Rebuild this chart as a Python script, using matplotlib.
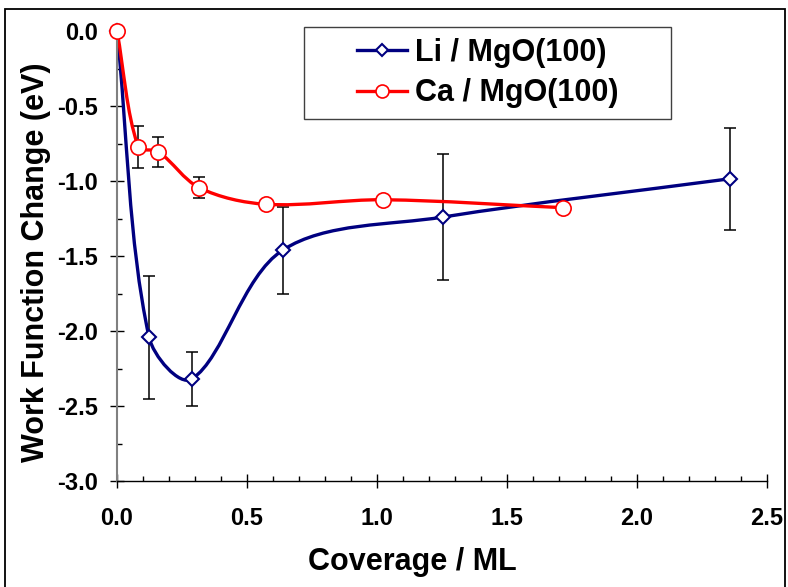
import numpy as np
import matplotlib
matplotlib.use("Agg")
import matplotlib.pyplot as plt
from matplotlib.path import Path
from matplotlib.patches import PathPatch, Rectangle
from matplotlib.lines import Line2D
from matplotlib.ticker import MultipleLocator, FormatStrFormatter

plt.rcParams['font.family'] = ['Liberation Sans', 'DejaVu Sans']
plt.rcParams['font.weight'] = 'bold'
plt.rcParams['axes.unicode_minus'] = False

# data
li_cov = [0.0, 0.123, 0.288, 0.638, 1.255, 2.358]
li_dwf = [0.0, -2.04, -2.32, -1.46, -1.24, -0.985]
li_err = [0.0, 0.41, 0.18, 0.29, 0.42, 0.34]

ca_cov = [0.0, 0.081, 0.159, 0.317, 0.572, 1.024, 1.717]
ca_dwf = [0.0, -0.77, -0.805, -1.045, -1.155, -1.125, -1.178]
ca_err = [0.0, 0.14, 0.10, 0.07, 0.0, 0.0, 0.0]

labels = ['Li / MgO(100)', 'Ca / MgO(100)']
W, H = 788, 587


def smooth_path(xs, ys, sx=260.0, sy=150.0):
    # excel style smoothed line, bezier segments with chord weighted tangents
    p = np.column_stack([np.asarray(xs) * sx, np.asarray(ys) * sy])
    n = len(p)
    verts = [p[0]]
    codes = [Path.MOVETO]
    for i in range(n - 1):
        p0 = p[max(i - 1, 0)]
        p1 = p[i]
        p2 = p[i + 1]
        p3 = p[min(i + 2, n - 1)]
        d01 = np.hypot(*(p1 - p0))
        d12 = np.hypot(*(p2 - p1))
        d23 = np.hypot(*(p3 - p2))
        f1 = d12 / (d01 + d12) / 3
        f2 = d12 / (d12 + d23) / 3
        verts += [p1 + f1 * (p2 - p0), p2 - f2 * (p3 - p1), p2]
        codes += [Path.CURVE4] * 3
    return Path(np.array(verts) / [sx, sy], codes)


fig = plt.figure(figsize=(W / 100, H / 100), dpi=100)
ax = fig.add_axes([117 / W, 1 - 481 / H, 650 / W, 450 / H])

series = [
    (li_cov, li_dwf, li_err, '#000080', 'D', 7.5, 1.5),
    (ca_cov, ca_dwf, ca_err, '#FF0000', 'o', 11, 1.2),
]
handles = []
for k, (xs, ys, err, col, mk, ms, mew) in enumerate(series):
    xs = np.array(xs)
    ys = np.array(ys)
    err = np.array(err)
    m = err > 0
    ax.errorbar(xs[m], ys[m], yerr=err[m], fmt='none', ecolor='black',
                elinewidth=1.1, capsize=4.5, capthick=1.1, zorder=1.5)
    ax.add_patch(PathPatch(smooth_path(xs, ys), fill=False, ec=col, lw=2.4,
                           zorder=2 + k * 0.1, capstyle='round'))
    ax.plot(xs, ys, linestyle='none', marker=mk, ms=ms, mfc='white', mec=col,
            mew=mew, zorder=3 + k * 0.1, clip_on=False)
    handles.append(Line2D([], [], color=col, lw=2.4, marker=mk, ms=ms * 0.85,
                          mfc='white', mec=col, mew=mew))

ax.set_xlim(0, 2.5)
ax.set_ylim(-3, 0)
ax.xaxis.set_major_locator(MultipleLocator(0.5))
ax.xaxis.set_minor_locator(MultipleLocator(0.1))
ax.yaxis.set_major_locator(MultipleLocator(0.5))
ax.yaxis.set_minor_locator(MultipleLocator(0.25))
ax.xaxis.set_major_formatter(FormatStrFormatter('%.1f'))
ax.yaxis.set_major_formatter(FormatStrFormatter('%.1f'))

ax.tick_params(which='major', direction='inout', length=9.4, width=1.0,
               labelsize=17, color='black')
ax.tick_params(which='minor', direction='in', length=3.6, width=1.0,
               color='black')
ax.tick_params(axis='x', which='major', pad=14)
ax.tick_params(axis='y', which='major', pad=9)

for s in ['top', 'right']:
    ax.spines[s].set_visible(False)
ax.spines['left'].set_color('#808080')
ax.spines['left'].set_linewidth(1.5)
ax.spines['bottom'].set_color('black')
ax.spines['bottom'].set_linewidth(1.0)

ax.set_xlabel('Coverage / ML', fontsize=22, fontweight='bold')
ax.set_ylabel('Work Function Change (eV)', fontsize=22, fontweight='bold')
ax.xaxis.set_label_coords(0.455, -0.1467)
ax.yaxis.set_label_coords(-0.1008, 0.487)

leg = ax.legend(handles, labels, frameon=False, loc='center',
                bbox_to_anchor=(487.5 / W, 1 - 73 / H),
                bbox_transform=fig.transFigure, fontsize=22,
                handlelength=1.64, handletextpad=0.26, labelspacing=0.35,
                borderpad=0)
fig.patches.append(Rectangle((304 / W, 1 - 119 / H), 367 / W, 92 / H,
                             transform=fig.transFigure, fill=False,
                             ec='#404040', lw=1.0))
# outer chart border
fig.patches.append(Rectangle((5 / W, -0.05), 780 / W, 1.05 - 9 / H,
                             transform=fig.transFigure, fill=False,
                             ec='black', lw=1.3, clip_on=False))

fig.savefig('out.png', dpi=100)
